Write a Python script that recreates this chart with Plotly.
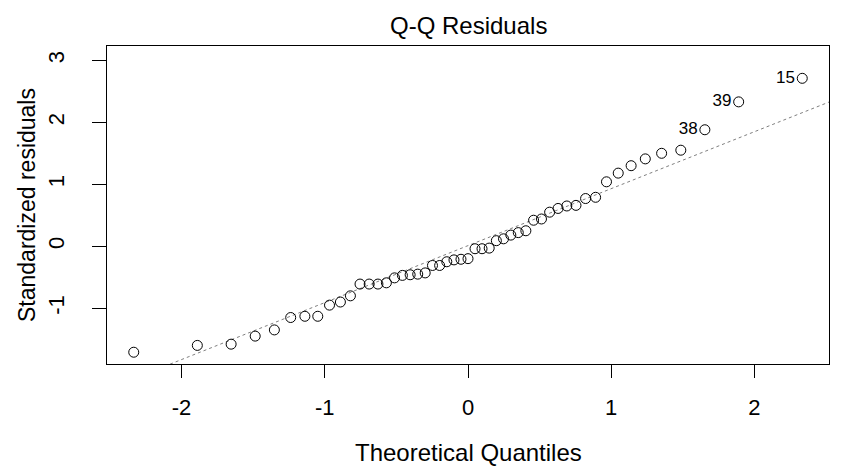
import plotly.graph_objects as go
import numpy as np

# Theoretical normal quantiles (n = 51)
theoretical = [-2.334, -1.890, -1.654, -1.486, -1.352, -1.238, -1.139, -1.049, -0.967, -0.891,
               -0.821, -0.754, -0.690, -0.629, -0.570, -0.513, -0.458, -0.404, -0.351, -0.299,
               -0.248, -0.198, -0.148, -0.098, -0.049, 0.000, 0.049, 0.098, 0.148, 0.198,
               0.248, 0.299, 0.351, 0.404, 0.458, 0.513, 0.570, 0.629, 0.690, 0.754,
               0.821, 0.891, 0.967, 1.049, 1.139, 1.238, 1.352, 1.486, 1.654, 1.890, 2.334]

# Sorted standardized residuals
residuals = [-1.71, -1.60, -1.58, -1.45, -1.35, -1.15, -1.13, -1.13, -0.95, -0.90,
             -0.80, -0.61, -0.61, -0.61, -0.59, -0.51, -0.47, -0.46, -0.45, -0.43,
             -0.31, -0.31, -0.25, -0.22, -0.21, -0.20, -0.04, -0.04, -0.03, 0.09,
             0.12, 0.18, 0.22, 0.25, 0.42, 0.44, 0.55, 0.61, 0.65, 0.66,
             0.77, 0.79, 1.04, 1.18, 1.30, 1.41, 1.50, 1.55, 1.88, 2.33, 2.71]

# Identified observations (last three points)
id_labels = ["38", "39", "15"]

x_ticks = [-2, -1, 0, 1, 2]
y_ticks = [-1, 0, 1, 2, 3]

point_text = [""] * (len(residuals) - len(id_labels)) + id_labels

# qqline through quartiles
norm_quartiles = [-0.6745, 0.6745]
yq = np.quantile(residuals, [0.25, 0.75])
slope = (yq[1] - yq[0]) / (norm_quartiles[1] - norm_quartiles[0])
intercept = yq[0] - slope * norm_quartiles[0]

xmin, xmax = min(theoretical), max(theoretical)
xext = 0.04 * (xmax - xmin)
x_range = [xmin - xext, xmax + xext]
ymin, ymax = min(residuals), max(residuals)
ytop = ymax + 0.075 * (ymax - ymin)
yext = 0.04 * (ytop - ymin)
y_range = [ymin - yext, ytop + yext]

line_x = [x_range[0] - 1, x_range[1] + 1]
line_y = [intercept + slope * v for v in line_x]

FONT = "Arial, Liberation Sans, sans-serif"

fig = go.Figure()
fig.add_trace(go.Scatter(
    x=line_x, y=line_y, mode="lines",
    line=dict(color="#7f7f7f", width=1, dash="dot"),
    hoverinfo="skip", showlegend=False))
fig.add_trace(go.Scatter(
    x=theoretical, y=residuals, mode="markers+text",
    text=point_text, textposition="middle left",
    textfont=dict(family=FONT, size=17, color="black"),
    marker=dict(symbol="circle-open", size=10, color="black", line=dict(width=1, color="black")),
    showlegend=False, cliponaxis=False))

fig.update_layout(
    width=844, height=473,
    margin=dict(l=107, r=15, t=46, b=109),
    paper_bgcolor="white", plot_bgcolor="white",
    font=dict(family=FONT, color="black"),
    xaxis=dict(range=x_range, tickvals=x_ticks, ticktext=[str(t) for t in x_ticks],
               ticks="outside", ticklen=13, tickwidth=1, tickcolor="black",
               showline=True, linecolor="black", linewidth=1, mirror=True,
               showgrid=False, zeroline=False, tickfont=dict(size=22),
               ticklabelstandoff=11),
    yaxis=dict(range=y_range, tickvals=y_ticks, ticktext=[str(t) for t in y_ticks],
               ticks="outside", ticklen=14, tickwidth=1, tickcolor="black",
               showline=True, linecolor="black", linewidth=1, mirror=True,
               showgrid=False, zeroline=False, tickfont=dict(size=22),
               tickangle=-90, ticklabelstandoff=19),
    annotations=[
        dict(text="Q-Q Residuals", xref="paper", yref="paper", x=0.5, y=1,
             yshift=21, showarrow=False, font=dict(size=24), xanchor="center", yanchor="middle"),
        dict(text="Theoretical Quantiles", xref="paper", yref="paper", x=0.5, y=0,
             yshift=-88, showarrow=False, font=dict(size=24), xanchor="center", yanchor="middle"),
        dict(text="Standardized residuals", xref="paper", yref="paper", x=0, y=0.5,
             xshift=-80, showarrow=False, font=dict(size=23), textangle=-90,
             xanchor="center", yanchor="middle"),
    ],
)

fig.write_html("out.html")
